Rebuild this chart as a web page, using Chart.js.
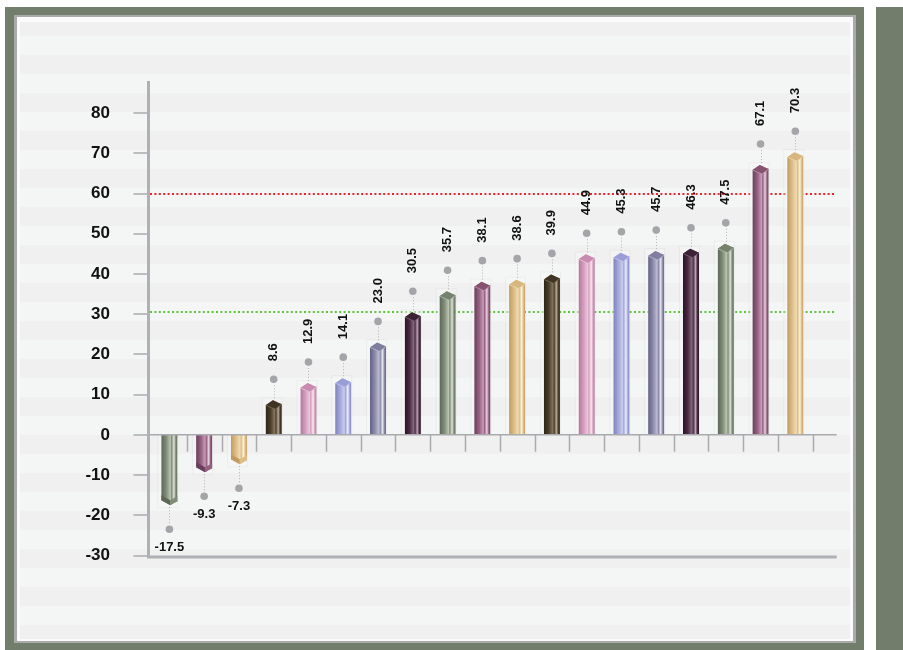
<!DOCTYPE html>
<html>
<head>
<meta charset="utf-8">
<title>Bar chart</title>
<script src="https://cdn.jsdelivr.net/npm/chart.js@4.4.1/dist/chart.umd.min.js"></script>
<style>
  html, body { margin: 0; padding: 0; background: #fff; }
  body { position: relative; width: 903px; height: 650px; overflow: hidden; }
  .box { position: absolute; }
  #frame { left: 5px; top: 7px; width: 859px; height: 643px; background: #727e6b; }
  #strip { left: 876px; top: 7px; width: 27px; height: 643px; background: #727e6b; }
  #edge { left: 14px; top: 15px; width: 842px; height: 628px; background: #a8aba9; }
  #mat { left: 17px; top: 17px; width: 836px; height: 624px; background: #fafbfa; }
  #panel {
    left: 20px; top: 22px; width: 830px; height: 617px;
    background: repeating-linear-gradient(to bottom, #f0f0f0 0 19px, #f4f6f5 19px 38px);
    background-position: 0 -5px;
  }
  canvas { position: absolute; left: 0; top: 0; }
</style>
</head>
<body>
<div class="box" id="frame"></div>
<div class="box" id="strip"></div>
<div class="box" id="edge"></div>
<div class="box" id="mat"></div>
<div class="box" id="panel"></div>
<canvas id="chart" width="903" height="650"></canvas>
<script>
const categories = ['1', '2', '3', '4', '5', '6', '7', '8', '9', '10',
                    '11', '12', '13', '14', '15', '16', '17', '18', '19'];
const values = [-17.5, -9.3, -7.3, 8.6, 12.9, 14.1, 23.0, 30.5, 35.7, 38.1,
                38.6, 39.9, 44.9, 45.3, 45.7, 46.3, 47.5, 67.1, 70.3];
const yTickValues = [-30, -20, -10, 0, 10, 20, 30, 40, 50, 60, 70, 80];
const targetLine = 60;
const averageLine = 30.5;

// colour cycle for the bars: shadow side, body, ridge, highlight, top face
const palette = [
  { dark: '#5c6856', base: '#7f8c77', light: '#b9c3b1', hi: '#dfe5d8', cap: '#75826d' },
  { dark: '#6a3f5c', base: '#93617f', light: '#c89ab7', hi: '#ecd3e2', cap: '#86536f' },
  { dark: '#c09c62', base: '#dcbd86', light: '#f0dcb4', hi: '#fbf1dc', cap: '#d8b77e' },
  { dark: '#2c2317', base: '#4a3c2a', light: '#857560', hi: '#b7aa94', cap: '#3f3324' },
  { dark: '#b27898', base: '#d39dbd', light: '#ebc6dc', hi: '#fae9f3', cap: '#c98bb0' },
  { dark: '#7f83bd', base: '#a3a7d9', light: '#c9cbee', hi: '#edeefb', cap: '#9a9ed6' },
  { dark: '#646283', base: '#8c8aa9', light: '#bdbcd2', hi: '#e6e5ef', cap: '#807e9f' },
  { dark: '#2a1325', base: '#4a2a42', light: '#846a7e', hi: '#b9a4b3', cap: '#3c2035' }
];

const BAR_W = 16;
const LABEL_FONT = 'bold 13px "Liberation Sans", Arial, Helvetica, sans-serif';

function colorsFor(i) {
  return palette[i % palette.length];
}

function barGradient(context) {
  const chart = context.chart;
  const i = context.dataIndex;
  if (i === undefined) return palette[0].base;
  const c = colorsFor(i);
  const xs = chart.scales && chart.scales.x;
  const cx = xs ? xs.getPixelForValue(i) : NaN;
  if (!Number.isFinite(cx)) return c.base;
  const g = chart.ctx.createLinearGradient(cx - BAR_W / 2, 0, cx + BAR_W / 2, 0);
  g.addColorStop(0, c.dark);
  g.addColorStop(0.3, c.base);
  g.addColorStop(0.56, c.light);
  g.addColorStop(0.64, c.base);
  g.addColorStop(0.78, c.hi);
  g.addColorStop(0.9, c.base);
  g.addColorStop(1, c.dark);
  return g;
}

function dottedLine(ctx, x0, x1, y, color) {
  ctx.save();
  ctx.strokeStyle = color;
  ctx.lineWidth = 2;
  ctx.setLineDash([2, 2.4]);
  ctx.beginPath();
  ctx.moveTo(x0, Math.round(y));
  ctx.lineTo(x1, Math.round(y));
  ctx.stroke();
  ctx.restore();
}

function polygon(ctx, pts) {
  ctx.moveTo(pts[0][0], pts[0][1]);
  for (let k = 1; k < pts.length; k++) ctx.lineTo(pts[k][0], pts[k][1]);
  ctx.closePath();
}

// outline of a bar including its pointed end
function silhouette(bar) {
  const w = bar.width, x0 = bar.x - w / 2, x1 = x0 + w, y = bar.y, b = bar.base;
  if (bar.y <= bar.base) {
    return [[x0, b], [x0, y + 5], [x0 + 0.45 * w, y], [x1, y + 4], [x1, b]];
  }
  return [[x0, b], [x0, y - 5], [x0 + 0.55 * w, y], [x1, y - 4], [x1, b]];
}

const prismPlugin = {
  id: 'prism',
  beforeDatasetsDraw(chart) {
    const { ctx, chartArea, scales: { y } } = chart;
    const left = chartArea.left - 2;
    const right = chartArea.right + 23;
    dottedLine(ctx, left, right, y.getPixelForValue(averageLine), '#5dc23c');
    dottedLine(ctx, left, right, y.getPixelForValue(targetLine), '#e8232b');

    // soft halo behind each bar: pale glow with a faint grey rim
    ctx.save();
    chart.getDatasetMeta(0).data.forEach(bar => {
      const x0 = bar.x - bar.width / 2;
      const top = bar.y <= bar.base ? bar.y - 3 : bar.base;
      const h = Math.abs(bar.base - bar.y) + 3;
      ctx.fillStyle = 'rgba(0, 0, 0, 0.035)';
      ctx.fillRect(x0 - 4, top, bar.width + 5, h);
      ctx.fillStyle = 'rgba(255, 255, 255, 0.45)';
      ctx.fillRect(x0 - 3, top + (bar.y <= bar.base ? 1 : 0), bar.width + 3, h - 1);
    });
    ctx.restore();
  },
  beforeDatasetDraw(chart) {
    const ctx = chart.ctx;
    ctx.save();
    ctx.beginPath();
    chart.getDatasetMeta(0).data.forEach(bar => polygon(ctx, silhouette(bar)));
    ctx.clip();
  },
  afterDatasetDraw(chart) {
    chart.ctx.restore();
  },
  afterDatasetsDraw(chart) {
    const { ctx, chartArea, scales: { x, y } } = chart;
    const zeroY = y.getPixelForValue(0);
    const axisX = chartArea.left - 3.5;
    const axisEnd = chartArea.right + 24;

    ctx.save();
    // zero line with category separators
    ctx.strokeStyle = '#a9aaae';
    ctx.lineWidth = 1.5;
    ctx.beginPath();
    ctx.moveTo(axisX, zeroY);
    ctx.lineTo(axisEnd, zeroY);
    const step = x.getPixelForValue(1) - x.getPixelForValue(0);
    for (let i = 0; i < categories.length; i++) {
      const sx = Math.round(x.getPixelForValue(i) + step / 2) + 0.5;
      ctx.moveTo(sx, zeroY);
      ctx.lineTo(sx, zeroY + 17);
    }
    ctx.stroke();

    // y tick marks
    ctx.beginPath();
    y.ticks.forEach(t => {
      const ty = Math.round(y.getPixelForValue(t.value));
      ctx.moveTo(axisX - 15, ty);
      ctx.lineTo(axisX, ty);
    });
    ctx.stroke();

    // axis lines
    ctx.strokeStyle = '#aeb0b5';
    ctx.lineWidth = 3;
    ctx.beginPath();
    ctx.moveTo(axisX, chartArea.top);
    ctx.lineTo(axisX, chartArea.bottom + 3);
    ctx.moveTo(axisX - 1.5, chartArea.bottom + 1.5);
    ctx.lineTo(axisEnd, chartArea.bottom + 1.5);
    ctx.stroke();

    // bar ends, markers and value labels
    chart.getDatasetMeta(0).data.forEach((bar, i) => {
      const c = colorsFor(i);
      const w = bar.width, x0 = bar.x - w / 2, x1 = x0 + w, by = bar.y;
      const up = bar.y <= bar.base;
      let dotY;
      if (up) {
        const T = [x0 + 0.45 * w, by], L = [x0, by + 5], R = [x1, by + 4], B = [x0 + 0.6 * w, by + 9];
        ctx.beginPath();
        polygon(ctx, [L, T, R, B]);
        ctx.fillStyle = c.cap;
        ctx.fill();
        ctx.beginPath();
        ctx.moveTo(L[0], L[1]);
        ctx.lineTo(B[0], B[1]);
        ctx.lineTo(R[0], R[1]);
        ctx.strokeStyle = c.light;
        ctx.globalAlpha = 0.7;
        ctx.lineWidth = 1;
        ctx.stroke();
        ctx.globalAlpha = 1;
        dotY = by - 21;
      } else {
        const px = x0 + 0.55 * w;
        ctx.beginPath();
        polygon(ctx, [[x0, by - 10], [px, by - 5], [px, by], [x0, by - 5]]);
        ctx.fillStyle = c.dark;
        ctx.fill();
        ctx.beginPath();
        polygon(ctx, [[px, by - 5], [x1, by - 9], [x1, by - 4], [px, by]]);
        ctx.fillStyle = c.base;
        ctx.fill();
        dotY = by + 24;
      }

      // dotted leader to the marker
      ctx.save();
      ctx.strokeStyle = '#b3b3b7';
      ctx.lineWidth = 1;
      ctx.setLineDash([1, 2]);
      ctx.beginPath();
      ctx.moveTo(Math.round(bar.x) + 0.5, up ? by - 2 : by + 2);
      ctx.lineTo(Math.round(bar.x) + 0.5, up ? dotY + 4 : dotY - 4);
      ctx.stroke();
      ctx.restore();

      ctx.beginPath();
      ctx.arc(bar.x, dotY, 3.8, 0, Math.PI * 2);
      ctx.fillStyle = '#a5a5a9';
      ctx.fill();

      const text = values[i].toFixed(1);
      ctx.fillStyle = '#111';
      ctx.font = LABEL_FONT;
      if (up) {
        ctx.save();
        ctx.translate(bar.x, dotY - 18);
        ctx.rotate(-Math.PI / 2);
        ctx.textAlign = 'left';
        ctx.textBaseline = 'middle';
        ctx.fillText(text, 0, 0);
        ctx.restore();
      } else {
        ctx.textAlign = 'center';
        ctx.textBaseline = 'middle';
        ctx.fillText(text, bar.x, dotY + 18);
      }
    });
    ctx.restore();
  }
};

new Chart(document.getElementById('chart'), {
  type: 'bar',
  data: {
    labels: categories,
    datasets: [{
      data: values,
      backgroundColor: barGradient,
      borderWidth: 0,
      barThickness: BAR_W
    }]
  },
  options: {
    responsive: false,
    animation: false,
    devicePixelRatio: 1,
    layout: {
      padding: { left: 0, top: 81, right: 90.3, bottom: 94.5 }
    },
    plugins: {
      legend: { display: false },
      tooltip: { enabled: false }
    },
    scales: {
      x: {
        display: false,
        offset: true
      },
      y: {
        min: -30,
        max: 88,
        afterFit(scale) {
          scale.width = 152;
        },
        afterBuildTicks(scale) {
          scale.ticks = yTickValues.map(v => ({ value: v }));
        },
        border: { display: false },
        grid: { display: false, drawTicks: false },
        ticks: {
          padding: 42,
          color: '#111',
          font: { family: '"Liberation Sans", Arial, Helvetica, sans-serif', size: 17, weight: 'bold' }
        }
      }
    }
  },
  plugins: [prismPlugin]
});
</script>
</body>
</html>
